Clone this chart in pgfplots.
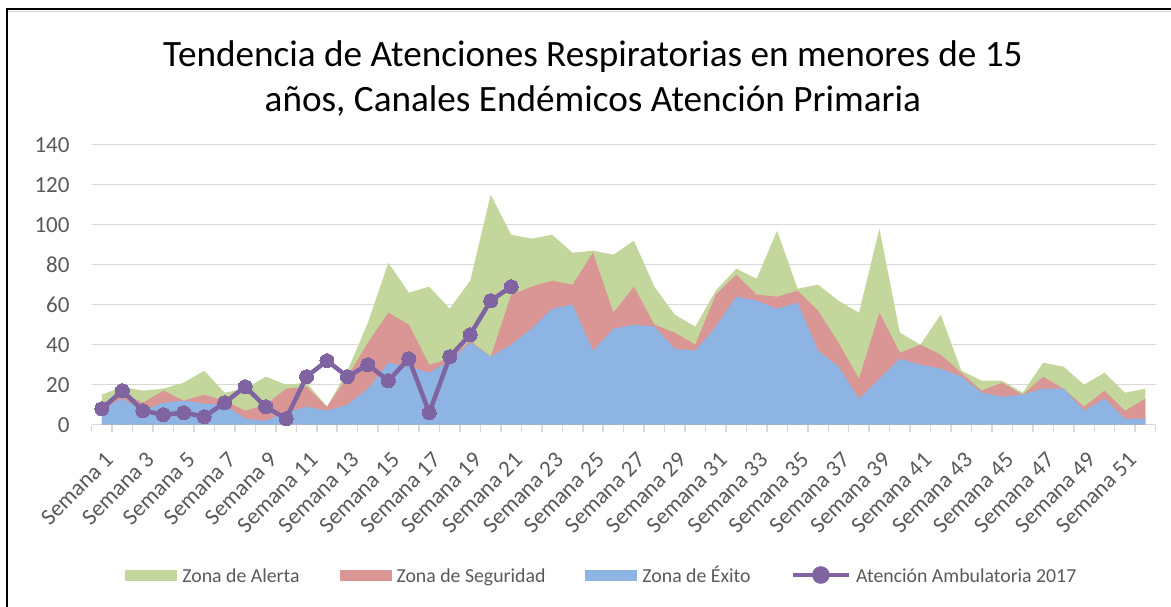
\documentclass[border=0pt]{standalone}
\usepackage{fontspec}
\setmainfont{Carlito}
\usepackage{pgfplots}
\usepackage{pgfplotstable}
\pgfplotsset{compat=1.18}
\definecolor{cgreen}{HTML}{C3D69B}
\definecolor{cred}{HTML}{D99694}
\definecolor{cblue}{HTML}{8EB4E3}
\definecolor{cpurple}{HTML}{8064A2}
\definecolor{cgrid}{HTML}{D9D9D9}
\definecolor{ctext}{HTML}{595959}
\pgfplotstableread{
w g r b
1 15 10 8
2 19 16 13
3 17 11 7
4 18 17 11
5 21 12 12
6 27 15 10.5
7 16 12 10
8 18 7 3
9 24 10 2
10 20 18 6
11 21 19 9
12 9 9 7
13 27 24 10
14 51 41 18
15 81 56 31
16 66 50 29
17 69 30 26
18 58 33 32
19 72 42 41
20 115 34 34
21 95 65 40
22 93 69 48
23 95 72 58
24 86 70 60
25 87 86 37
26 85 56 48
27 92 69 50
28 69 50 49
29 55 46 38
30 49 40 37
31 67 65 49
32 78 75 64
33 73 65 62
34 97 64 58
35 68 67 61
36 70 57 37
37 62 41 29
38 56 23 13
39 98 56 23
40 46 36 33
41 40 40 30
42 55 35 28
43 27 26 24
44 22 17 16
45 22 21 14
46 16 15 15
47 31 24 18
48 29 18 18
49 20 9 7
50 26 17 13
51 16 7 3
52 18 13 3
}\zonas
\pgfplotstableread{
w v
1 8
2 17
3 7
4 5
5 6
6 4
7 11
8 19
9 9
10 3
11 24
12 32
13 24
14 30
15 22
16 33
17 6
18 34
19 45
20 62
21 69
}\atencion
\begin{document}
\begin{tikzpicture}[x=1pt,y=1pt]
\useasboundingbox (0,0) rectangle (1171,607);
\begin{axis}[
  at={(91.7pt,182.3pt)}, anchor=south west,
  scale only axis, width=1064pt, height=280pt,
  xmin=0.5, xmax=52.5, ymin=0, ymax=140,
  axis line style={draw=none},
  ytick={0,20,...,140},
  xtick={1,3,...,51},
  xticklabels={Semana 1,Semana 3,Semana 5,Semana 7,Semana 9,Semana 11,Semana 13,Semana 15,Semana 17,Semana 19,Semana 21,Semana 23,Semana 25,Semana 27,Semana 29,Semana 31,Semana 33,Semana 35,Semana 37,Semana 39,Semana 41,Semana 43,Semana 45,Semana 47,Semana 49,Semana 51},
  minor xtick={0.5,1.5,...,52.5},
  xtick pos=bottom, ytick pos=left,
  tick align=outside,
  major tick length=0pt,
  minor tick length=7pt,
  minor tick style={cgrid, line width=1.5pt},
  ymajorgrids,
  major grid style={cgrid, line width=1.5pt},
  /pgf/number format/assume math mode=true,
  ticklabel style={font=\fontsize{23}{27}\selectfont, text=ctext},
  yticklabel style={inner sep=0pt, xshift=-22pt},
  xticklabel style={xshift=2pt, yshift=-26pt, rotate=45, anchor=north east, inner sep=0pt},
  title={Tendencia de Atenciones Respiratorias en menores de 15\\años, Canales Endémicos Atención Primaria},
  title style={at={(0.4711,1.215)}, anchor=center, align=center, font=\fontsize{37.2}{45}\selectfont, text=black},
  legend columns=4,
  legend style={at={(0.4795,-0.5368)}, anchor=center, draw=none, fill=none,
    font=\fontsize{19.8}{23}\selectfont, text=ctext,
    /tikz/every odd column/.append style={column sep=3pt},
    /tikz/every even column/.append style={column sep=38pt}},
  legend cell align=left,
]
\addplot[fill=cgreen, draw=none, legend image code/.code={\path[fill=cgreen] (0pt,-5.5pt) rectangle (52pt,5.5pt);}] table[x=w,y=g]{\zonas} \closedcycle;
\addlegendentry{\vphantom{Ég}Zona de Alerta}
\addplot[fill=cred, draw=none, legend image code/.code={\path[fill=cred] (0pt,-5.5pt) rectangle (52pt,5.5pt);}] table[x=w,y=r]{\zonas} \closedcycle;
\addlegendentry{\vphantom{Ég}Zona de Seguridad}
\addplot[fill=cblue, draw=none, legend image code/.code={\path[fill=cblue] (0pt,-5.5pt) rectangle (52pt,5.5pt);}] table[x=w,y=b]{\zonas} \closedcycle;
\addlegendentry{\vphantom{Ég}Zona de Éxito}
\addplot[cpurple, line width=4.5pt, mark=*, mark size=7pt, mark options={fill=cpurple, draw=cpurple, line width=0pt},
  legend image code/.code={\draw[cpurple, line width=4.5pt] (0pt,0pt) -- (56pt,0pt); \fill[cpurple] (28pt,0pt) circle (6.5pt);}] table[x=w,y=v]{\atencion};
\addlegendentry{\vphantom{Ég}Atención Ambulatoria 2017}
\end{axis}
\draw[cgrid, line width=1.2pt] (7,595.5) -- (1190,595.5);
\draw[line width=2.2pt] (7,-20) -- (7,597.7) -- (1190,597.7);
\end{tikzpicture}
\end{document}
